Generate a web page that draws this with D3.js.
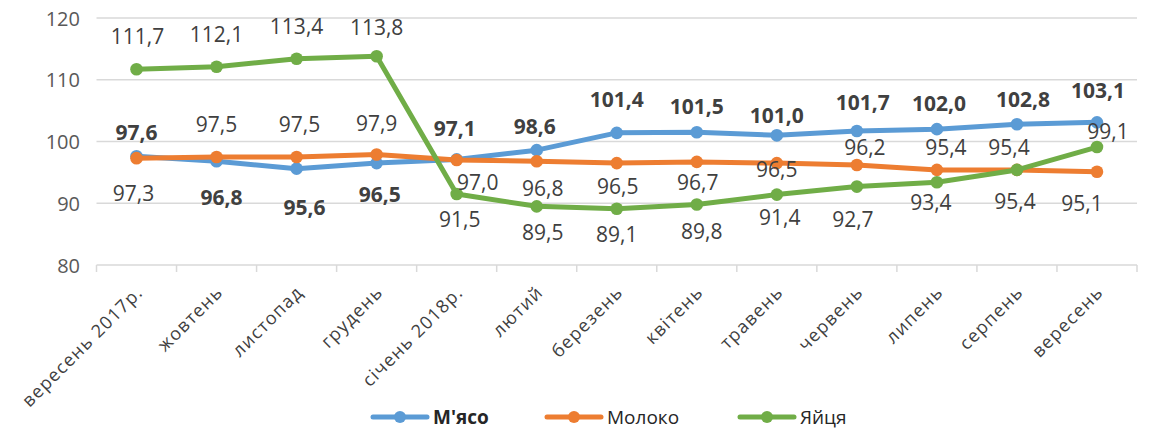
<!DOCTYPE html>
<html><head><meta charset="utf-8">
<script src="https://cdn.jsdelivr.net/npm/d3@7"></script>
<style>
html,body{margin:0;padding:0;background:#fff;}
svg{display:block;font-family:"Open Sans",sans-serif;}
</style></head>
<body><svg id="chart" width="1153" height="431"></svg>
<script>
const categories = ["вересень 2017р.","жовтень","листопад","грудень","січень 2018р.","лютий","березень","квітень","травень","червень","липень","серпень","вересень"];
const meat = [97.6,96.8,95.6,96.5,97.1,98.6,101.4,101.5,101.0,101.7,102.0,102.8,103.1];
const milk = [97.3,97.5,97.5,97.9,97.0,96.8,96.5,96.7,96.5,96.2,95.4,95.4,95.1];
const eggs = [111.7,112.1,113.4,113.8,91.5,89.5,89.1,89.8,91.4,92.7,93.4,95.4,99.1];
const yTicks = [80,90,100,110,120];
const seriesNames = ["М'ясо","Молоко","Яйця"];

// label placement offsets (px) relative to each point
const meatLabelDx = [0,5,8,3,-2,-2,0,0,0,6,2,6,1];
const meatLabelDy = [-24,36,39,32,-31,-23,-33,-26,-20,-28,-26,-25,-32];
const milkLabelDx = [-3,0,3,0,21,6,1,1,0,8,9,-8,-15];
const milkLabelDy = [35,-32,-32,-31,23,27,24,21,7,-17,-22,-22,32];
const eggsLabelDx = [1,0,0,0,3,6,0,5,3,-4,-6,-2,11];
const eggsLabelDy = [-33,-32,-32,-29,26,26,26,27,23,33,20,32,-15];

const colors = ["#5B9BD5","#ED7D31","#70AD47"];
const series = [
  {name:seriesNames[0], values:meat, color:colors[0], bold:true, dx:meatLabelDx, dy:meatLabelDy},
  {name:seriesNames[1], values:milk, color:colors[1], bold:false, dx:milkLabelDx, dy:milkLabelDy},
  {name:seriesNames[2], values:eggs, color:colors[2], bold:false, dx:eggsLabelDx, dy:eggsLabelDy}
];

const svg = d3.select("#chart");
const x = d3.scaleBand().domain(categories).range([96.5,1137]).padding(0);
const cx = c => x(c) + x.bandwidth()/2;
const y = d3.scaleLinear().domain([80,120]).range([265,18]);

// gridlines
svg.append("g").selectAll("line").data(yTicks.filter(t=>t!==80)).join("line")
  .attr("x1",x.range()[0]).attr("x2",x.range()[1])
  .attr("y1",d=>y(d)).attr("y2",d=>y(d))
  .attr("stroke","#d9d9d9").attr("stroke-width",1.5);

// y axis labels
const yAxis = d3.axisLeft(y).tickValues(yTicks).tickSize(0).tickPadding(0).tickFormat(d3.format("d"));
const gy = svg.append("g").attr("transform","translate(80,0)").call(yAxis);
gy.select(".domain").remove();
gy.selectAll("text").attr("font-size",20).attr("fill","#595959").attr("font-family","Open Sans").attr("dy","0.35em");

// x axis
const boundaries = categories.map(c=>x(c)).concat([x.range()[1]]);
const gx = svg.append("g");
gx.append("line").attr("x1",x.range()[0]).attr("x2",x.range()[1]).attr("y1",y(80)).attr("y2",y(80))
  .attr("stroke","#d9d9d9").attr("stroke-width",1.5);
gx.selectAll("line.tk").data(boundaries).join("line").attr("class","tk")
  .attr("x1",d=>d).attr("x2",d=>d).attr("y1",y(80)).attr("y2",y(80)+7)
  .attr("stroke","#d9d9d9").attr("stroke-width",1.5);
gx.selectAll("text").data(categories).join("text")
  .attr("transform",d=>`translate(${cx(d)+3},${y(80)+24}) rotate(-45)`)
  .attr("text-anchor","end").attr("dy","0.35em")
  .attr("font-size",18).attr("letter-spacing","1.2px").attr("fill","#404040")
  .text(d=>d);

// lines
const line = d3.line().x((d,i)=>cx(categories[i])).y(d=>y(d));
series.forEach(s=>{
  const g = svg.append("g");
  g.append("path").datum(s.values).attr("d",line).attr("fill","none")
    .attr("stroke",s.color).attr("stroke-width",5).attr("stroke-linejoin","round");
  g.selectAll("circle").data(s.values).join("circle")
    .attr("cx",(d,i)=>cx(categories[i])).attr("cy",d=>y(d)).attr("r",6.3).attr("fill",s.color);
});
// labels
const fmt = v => d3.format(".1f")(v).replace(".",",");
series.forEach(s=>{
  svg.append("g").selectAll("text").data(s.values).join("text")
    .attr("x",(d,i)=>cx(categories[i])+s.dx[i]).attr("y",(d,i)=>y(d)+s.dy[i])
    .attr("text-anchor","middle").attr("dy","0.35em")
    .attr("font-size",21).attr("font-weight",s.bold?700:400).attr("fill","#404040")
    .text(fmt);
});

// legend
const legX = [373,547,740];
const lg = svg.append("g").attr("transform","translate(0,417)");
series.forEach((s,i)=>{
  lg.append("line").attr("x1",legX[i]).attr("x2",legX[i]+54).attr("y1",0).attr("y2",0)
    .attr("stroke",s.color).attr("stroke-width",5).attr("stroke-linecap","round");
  lg.append("circle").attr("cx",legX[i]+27).attr("cy",0).attr("r",6).attr("fill",s.color);
  lg.append("text").attr("x",legX[i]+60).attr("y",0).attr("dy","0.35em")
    .attr("font-size",19).attr("font-weight",s.bold?700:400).attr("fill","#262626").text(s.name);
});
</script></body></html>
